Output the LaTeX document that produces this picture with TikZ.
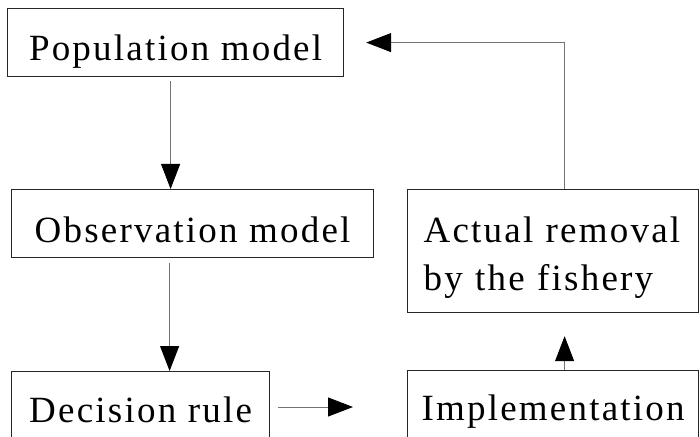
\documentclass[tikz,border=0pt]{standalone}
\usepackage{fontspec}
\setmainfont[LetterSpace=6]{Liberation Serif}
\usetikzlibrary{arrows.meta}
\begin{document}
\begin{tikzpicture}[x=1pt,y=1pt,
  box/.style={draw=black!85, line width=1.2pt, inner xsep=0pt, inner ysep=0pt, anchor=north west,
    font=\fontsize{37}{48}\selectfont, align=center},
  arr/.style={draw=black!55, line width=1pt, -{Triangle[length=25pt,width=19pt,black]}}]
\useasboundingbox (0,0) rectangle (700,436);
\clip (0,0) rectangle (700,436);
\fill[white] (0,0) rectangle (700,436);
\node[box, minimum width=336pt] (pop) at (7,428) {\rule{0pt}{52pt}Population model\rule[-16pt]{0pt}{16pt}};
\node[box, minimum width=362pt] (obs) at (11,247) {\rule{0pt}{53pt}Observation model\rule[-15pt]{0pt}{15pt}};
\node[box, minimum width=291pt, inner xsep=16pt, text width=259pt, align=left] (act) at (407,247)
  {\rule{0pt}{53pt}Actual removal\\by the fishery\rule[-22pt]{0pt}{22pt}};
\node[box, minimum width=258pt] (dec) at (11,65) {\rule{0pt}{51pt}Decision rule\rule[-40pt]{0pt}{40pt}};
\node[box, minimum width=291pt] (impl) at (407,66) {\rule{0pt}{50pt}Implementation\rule[-40pt]{0pt}{40pt}};
\coordinate (row) at (0,29);
\draw[arr, shorten <=4pt] ([xshift=-5pt]pop.south) -- ([xshift=-5pt]pop.south |- obs.north);
\draw[arr, shorten <=5pt] ([xshift=-23pt]obs.south) -- ([xshift=-23pt]obs.south |- dec.north);
\draw[arr, shorten <=8pt, shorten >=54pt] (dec.east |- row) -- (impl.west |- row);
\draw[arr, shorten >=23pt] ([xshift=11.5pt]impl.north) -- ([xshift=11.5pt]act.south);
\draw[arr, shorten >=22pt] ([xshift=11.5pt]act.north) |- (pop.east);
\end{tikzpicture}
\end{document}
